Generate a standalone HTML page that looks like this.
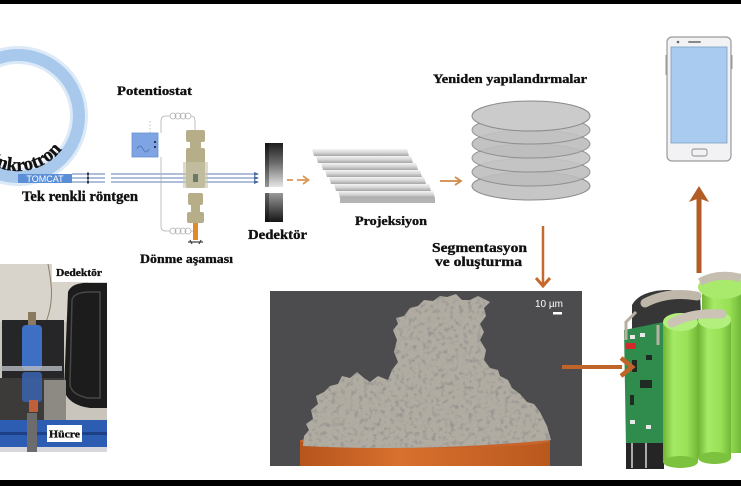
<!DOCTYPE html>
<html><head><meta charset="utf-8"><style>
html,body{margin:0;padding:0;background:#fff;}
svg{display:block}
.t{font-family:"Liberation Serif",serif;font-weight:bold;fill:#111;stroke:#111;stroke-width:0.35;}
</style></head><body>
<svg width="741" height="486" viewBox="0 0 741 486" xmlns="http://www.w3.org/2000/svg">
<defs>
 <linearGradient id="detTop" x1="0" y1="0" x2="0" y2="1">
  <stop offset="0" stop-color="#1e1e1e"/><stop offset="0.45" stop-color="#6a6a6a"/><stop offset="1" stop-color="#e6e6e6"/>
 </linearGradient>
 <linearGradient id="detBot" x1="0" y1="0" x2="0" y2="1">
  <stop offset="0" stop-color="#9a9a9a"/><stop offset="1" stop-color="#151515"/>
 </linearGradient>
 <linearGradient id="plate" x1="0" y1="0" x2="0" y2="1">
  <stop offset="0" stop-color="#f4f4f4"/><stop offset="0.5" stop-color="#d6d6d6"/><stop offset="1" stop-color="#a6a6a6"/>
 </linearGradient>
 <linearGradient id="cyl" x1="0" y1="0" x2="1" y2="0">
  <stop offset="0" stop-color="#6fb434"/><stop offset="0.3" stop-color="#a6ea66"/><stop offset="0.7" stop-color="#98e055"/><stop offset="1" stop-color="#72b838"/>
 </linearGradient>
 <linearGradient id="orng" x1="0" y1="0" x2="1" y2="0">
  <stop offset="0" stop-color="#b5541c"/><stop offset="0.4" stop-color="#d8702e"/><stop offset="1" stop-color="#b9581e"/>
 </linearGradient>
 <filter id="tex" x="0" y="0" width="100%" height="100%">
  <feTurbulence type="fractalNoise" baseFrequency="0.22" numOctaves="2" seed="4" result="n"/>
  <feColorMatrix in="n" type="matrix" values="0 0 0 0 0.30  0 0 0 0 0.29  0 0 0 0 0.28  -3.2 0 0 0 1.6" result="dk"/>
  <feComposite in="dk" in2="SourceGraphic" operator="in" result="d2"/>
  <feMerge><feMergeNode in="SourceGraphic"/><feMergeNode in="d2"/></feMerge>
 </filter>
 <path id="arc" d="M-29.6,143.5 A55 55 0 0 0 69.7,134.8"/>
</defs>
<rect width="741" height="486" fill="#fff"/>

<!-- Synchrotron ring -->
<circle cx="18" cy="116" r="61" fill="none" stroke="#dce9f7" stroke-width="18"/>
<circle cx="18" cy="116" r="61" fill="none" stroke="#a8c8ec" stroke-width="12"/>
<text class="t" font-size="19" stroke-width="0.5"><textPath href="#arc" startOffset="108" text-anchor="end">Sinkrotron</textPath></text>

<!-- TOMCAT -->
<rect x="18" y="174" width="54" height="9" fill="#5a8fd8"/>
<text x="45" y="182" font-family="Liberation Sans,sans-serif" font-size="9" fill="#fff" text-anchor="middle">TOMCAT</text>

<!-- beams -->
<g stroke="#7f98c4" stroke-width="1.2">
 <line x1="72" y1="174" x2="105" y2="174"/><line x1="72" y1="178" x2="105" y2="178"/><line x1="72" y1="182" x2="105" y2="182"/>
 <line x1="111" y1="174" x2="258" y2="174"/><line x1="111" y1="178" x2="258" y2="178"/><line x1="111" y1="182" x2="258" y2="182"/>
</g>
<g fill="#334">
 <rect x="87" y="172.5" width="2" height="3"/><rect x="87" y="176.5" width="2" height="3"/><rect x="87" y="180.5" width="2" height="3"/>
 <path d="M254,172 L259,174 L254,176Z M254,176 L259,178 L254,180Z M254,180 L259,182 L254,184Z" fill="#4a6aa0"/>
</g>
<text class="t" x="22" y="201" font-size="14.5" textLength="116" lengthAdjust="spacingAndGlyphs">Tek renkli röntgen</text>

<!-- Potentiostat -->
<text class="t" x="117" y="95" font-size="13" textLength="75" lengthAdjust="spacingAndGlyphs">Potentiostat</text>
<g fill="none" stroke="#b0b0b0" stroke-width="0.8">
 <path d="M161,133 V121 Q161,116 166,116 H170"/>
 <circle cx="173" cy="116" r="3"/><circle cx="178" cy="116" r="3"/><circle cx="183" cy="116" r="3"/><circle cx="188" cy="116" r="3"/>
 <path d="M191,116 Q195,116 195,121 V130"/>
 <path d="M161,157 V226 Q161,231 166,231 H170"/>
 <circle cx="173" cy="231" r="3"/><circle cx="178" cy="231" r="3"/><circle cx="183" cy="231" r="3"/><circle cx="188" cy="231" r="3"/>
 <path d="M191,231 H194"/>
 <path d="M150,133 V120" stroke-dasharray="1.5 2"/>
</g>
<rect x="132" y="133" width="26" height="24" fill="#7ea4e4" stroke="#6a90d2" stroke-width="0.8"/>
<path d="M137,149 q3,-6 6,0 t6,0" fill="none" stroke="#4a6aa8" stroke-width="0.7"/>
<rect x="154" y="141" width="2" height="2" fill="#334"/><rect x="154" y="146" width="2" height="2" fill="#334"/>

<!-- Rotation stage column -->
<g fill="#b6ae88">
 <rect x="186" y="130" width="19" height="12" rx="2"/>
 <rect x="190" y="142" width="11" height="6"/>
 <rect x="186" y="148" width="19" height="40" rx="2"/>
 <rect x="188" y="193" width="15" height="12" rx="2"/>
 <rect x="191" y="205" width="9" height="7"/>
 <rect x="187" y="212" width="17" height="11" rx="2"/>
</g>
<rect x="183" y="162" width="25" height="26" fill="#c8c4ac" opacity="0.6"/>
<rect x="193" y="174" width="5" height="8" fill="#6a7a6a"/>
<rect x="193" y="223" width="5" height="17" fill="#e08a2a"/>
<path d="M188,242 L203,242 M190,240 L192,244 M201,240 L199,244" stroke="#444" stroke-width="1.2"/>
<text class="t" x="140" y="263" font-size="13" textLength="93" lengthAdjust="spacingAndGlyphs">Dönme aşaması</text>

<!-- Detector -->
<rect x="265" y="143" width="18" height="44" fill="url(#detTop)"/>
<rect x="265" y="143" width="4" height="44" fill="#000" opacity="0.35"/>
<rect x="265" y="193" width="18" height="29" fill="url(#detBot)"/>
<rect x="265" y="193" width="4" height="29" fill="#000" opacity="0.35"/>
<text class="t" x="248" y="239" font-size="14" textLength="59" lengthAdjust="spacingAndGlyphs">Dedektör</text>

<!-- dashed orange arrow -->
<g stroke="#d9995a" stroke-width="1.8" fill="none">
 <line x1="287" y1="180" x2="293" y2="180"/>
 <line x1="297" y1="180" x2="308" y2="180"/>
 <path d="M303,176 L308.5,180 L303,184"/>
</g>

<!-- Projection plates -->
<g>
 <polygon points="312,149 407,149 409,156 314,156" fill="url(#plate)"/>
 <polygon points="316,156 411,156 413,163 318,163" fill="url(#plate)"/>
 <polygon points="321,163 416,163 418,170 323,170" fill="url(#plate)"/>
 <polygon points="325,170 420,170 422,177 327,177" fill="url(#plate)"/>
 <polygon points="329,177 424,177 426,184 331,184" fill="url(#plate)"/>
 <polygon points="334,184 429,184 431,191 336,191" fill="url(#plate)"/>
 <polygon points="338,191 433,191 435,198 340,198" fill="url(#plate)"/>
 <rect x="340" y="198" width="95" height="5" fill="#b4b4b4"/>
</g>
<text class="t" x="355" y="225" font-size="13" textLength="72" lengthAdjust="spacingAndGlyphs">Projeksiyon</text>

<!-- arrow to disks -->
<g stroke="#d08a48" stroke-width="1.8" fill="none">
 <line x1="440" y1="181" x2="460" y2="181"/><path d="M455,177 L461,181 L455,185"/>
</g>

<!-- Disks -->
<g stroke="#8a8a8a" stroke-width="1">
 <ellipse cx="531" cy="186" rx="59" ry="14" fill="#c6c6c6"/>
 <ellipse cx="531" cy="172" rx="59" ry="14" fill="#bebebe" opacity="0.9"/>
 <ellipse cx="531" cy="158" rx="59" ry="14" fill="#c4c4c4" opacity="0.9"/>
 <ellipse cx="531" cy="144" rx="59" ry="14" fill="#bdbdbd" opacity="0.9"/>
 <ellipse cx="531" cy="130" rx="59" ry="14" fill="#c2c2c2" opacity="0.9"/>
 <ellipse cx="531" cy="116" rx="59" ry="15" fill="#cbcbcb"/>
</g>
<text class="t" x="433" y="83" font-size="13" textLength="154" lengthAdjust="spacingAndGlyphs">Yeniden yapılandırmalar</text>

<!-- Phone -->
<rect x="665.5" y="55" width="2" height="20" fill="#999"/>
<rect x="730.5" y="55" width="2" height="14" fill="#999"/>
<rect x="667" y="37" width="64" height="124" rx="5" fill="#f2f2f4" stroke="#9a9a9a" stroke-width="1.2"/>
<rect x="671" y="47" width="56" height="96" fill="#a9cbef" stroke="#7c9ec4" stroke-width="0.8"/>
<circle cx="678" cy="42" r="1.3" fill="#666"/>
<rect x="688" y="41" width="13" height="2" rx="1" fill="#888"/>
<rect x="692" y="149" width="15" height="7" rx="2" fill="none" stroke="#888" stroke-width="0.9"/>

<!-- up arrow -->
<rect x="696.5" y="197" width="5" height="76" fill="#b45c26"/>
<polygon points="689,202 699,186 709,202 701,199 697,199" fill="#b45c26"/>

<!-- Segmentation text and down arrow -->
<text class="t" x="432" y="252" font-size="14" textLength="95" lengthAdjust="spacingAndGlyphs">Segmentasyon</text>
<text class="t" x="435" y="266" font-size="14" textLength="87" lengthAdjust="spacingAndGlyphs">ve oluşturma</text>
<line x1="543" y1="226" x2="543" y2="285" stroke="#c46a2c" stroke-width="2.5"/>
<path d="M536,278 L543,286 L550,278" fill="none" stroke="#c46a2c" stroke-width="3"/>

<!-- Microscopy panel -->
<rect x="270" y="291" width="312" height="175" fill="#4c4c4e"/>
<rect x="300" y="440" width="250" height="26" fill="url(#orng)"/>
<ellipse cx="425" cy="441" rx="125" ry="7" fill="#c8642a"/>
<path filter="url(#tex)" fill="#b0aca2" d="M303,446 L304,436 L309,430 L306,424 L313,419 L311,410 L318,404 L316,396 L324,392 L330,386 L338,384 L342,376 L350,378 L357,372 L364,378 L370,382 L378,376 L388,380 L392,370 L398,362 L394,352 L397,340 L393,330 L398,324 L396,318 L404,316 L410,308 L418,306 L424,300 L433,301 L440,296 L447,297 L456,294 L462,300 L470,300 L478,296 L490,302 L484,308 L486,316 L480,324 L484,332 L480,340 L486,350 L484,360 L490,368 L498,370 L500,376 L508,380 L512,388 L520,394 L527,402 L534,404 L540,412 L544,420 L547,426 L551,440 Q425,452 303,446 Z"/>
<text x="535" y="307" font-family="Liberation Sans,sans-serif" font-size="10" fill="#fff">10 µm</text>
<rect x="553" y="312" width="9" height="2.5" fill="#fff"/>

<!-- Battery -->
<g>
 <rect x="702" y="285" width="39" height="168" fill="url(#cyl)"/>
 <ellipse cx="722" cy="287" rx="24" ry="12" fill="#a9ea6c"/>
 <path d="M700,282 Q718,272 741,278" stroke="#c6beb0" stroke-width="8" fill="none"/>
 <path d="M632,305 Q640,290 670,290 L700,294 L702,335 L632,335 Z" fill="#363636"/>
 <path d="M645,303 Q668,291 697,296" stroke="#bfb8aa" stroke-width="9" fill="none" stroke-linecap="round"/>
 <path d="M624,330 L664,322 L664,457 L626,448 Z" fill="#2f8c4c"/>
 <g fill="#e8e8e8"><rect x="630" y="335" width="5" height="4"/><rect x="640" y="333" width="5" height="4"/><rect x="630" y="420" width="5" height="4"/><rect x="646" y="425" width="5" height="4"/></g>
 <g fill="#1e2a22"><rect x="640" y="380" width="12" height="8"/><rect x="630" y="395" width="4" height="10"/><rect x="646" y="355" width="6" height="5"/><rect x="632" y="360" width="5" height="12"/></g>
 <rect x="626" y="443" width="38" height="26" fill="#252525"/>
 <path d="M632,443 V468 M646,443 V468" stroke="#aaa" stroke-width="2"/>
 <rect x="626" y="343" width="10" height="6" fill="#d22a2a"/>
 <path d="M636,312 L626,322 L626,340" stroke="#b8b0a2" stroke-width="3" fill="none"/>
 <rect x="663" y="322" width="35" height="140" fill="url(#cyl)"/>
 <ellipse cx="680.5" cy="462" rx="17.5" ry="6" fill="#7cc23e"/>
 <ellipse cx="680.5" cy="322" rx="17.5" ry="9" fill="#b2ef7c"/>
 <rect x="698" y="320" width="33" height="138" fill="url(#cyl)"/>
 <ellipse cx="714.5" cy="458" rx="16.5" ry="6" fill="#7cc23e"/>
 <ellipse cx="714.5" cy="320" rx="16.5" ry="9" fill="#b2ef7c"/>
 <path d="M672,323 Q692,312 722,314" stroke="#cbc4b6" stroke-width="9" fill="none" stroke-linecap="round"/>
 <path d="M658,325 L658,345" stroke="#b8b0a2" stroke-width="3"/>
</g>

<!-- arrow to battery (on top) -->
<rect x="562" y="365" width="60" height="4" fill="#c0642a"/>
<path d="M621,358 L632,367 L621,376" fill="none" stroke="#c0642a" stroke-width="4.5"/>

<!-- Photo -->
<g>
 <rect x="0" y="264" width="107" height="188" fill="#cac5bc"/>
 <rect x="0" y="264" width="107" height="58" fill="#d8d3cb"/>
 <path d="M48,264 C52,285 54,302 46,322" stroke="#8a7f6a" stroke-width="1" fill="none"/>
 <rect x="2" y="320" width="62" height="58" fill="#262628"/>
 <path d="M68,292 Q72,282 90,283 L107,283 L107,408 L90,408 Q68,405 64,390 Z" fill="#1c1c1c"/>
 <path d="M72,300 Q74,292 90,292 L100,292 L100,398 L88,398 Q72,395 70,385 Z" fill="none" stroke="#474747" stroke-width="1.5"/>
 <rect x="0" y="378" width="64" height="42" fill="#3c3b3a"/>
 <rect x="44" y="380" width="22" height="40" fill="#8d8a84"/>
 <rect x="28" y="312" width="8" height="14" fill="#8a7a60"/>
 <rect x="22" y="325" width="20" height="45" rx="4" fill="#3d6fc4"/>
 <rect x="22" y="372" width="20" height="30" rx="3" fill="#3a64b0" opacity="0.85"/>
 <rect x="0" y="366" width="62" height="5" fill="#b8bcc0" opacity="0.8"/>
 <rect x="29" y="400" width="9" height="12" fill="#c0603a"/>
 <rect x="0" y="420" width="107" height="27" fill="#2d5cb3"/>
 <rect x="0" y="432" width="107" height="3" fill="#1c3f85"/>
 <rect x="0" y="447" width="107" height="5" fill="#d8d8dc"/>
 <rect x="27" y="413" width="10" height="39" fill="#6c6c6c"/>
 <rect x="52" y="264" width="55" height="18" fill="#fff"/>
 <text class="t" x="56" y="276" font-size="10" textLength="46" lengthAdjust="spacingAndGlyphs">Dedektör</text>
 <rect x="47" y="425" width="35" height="17" fill="#fff"/>
 <text class="t" x="49" y="437.5" font-size="10" textLength="31" lengthAdjust="spacingAndGlyphs">Hücre</text>
</g>

<!-- black bars -->
<rect x="0" y="0" width="741" height="4" fill="#000"/>
<rect x="0" y="480" width="741" height="6" fill="#000"/>
</svg>
</body></html>
